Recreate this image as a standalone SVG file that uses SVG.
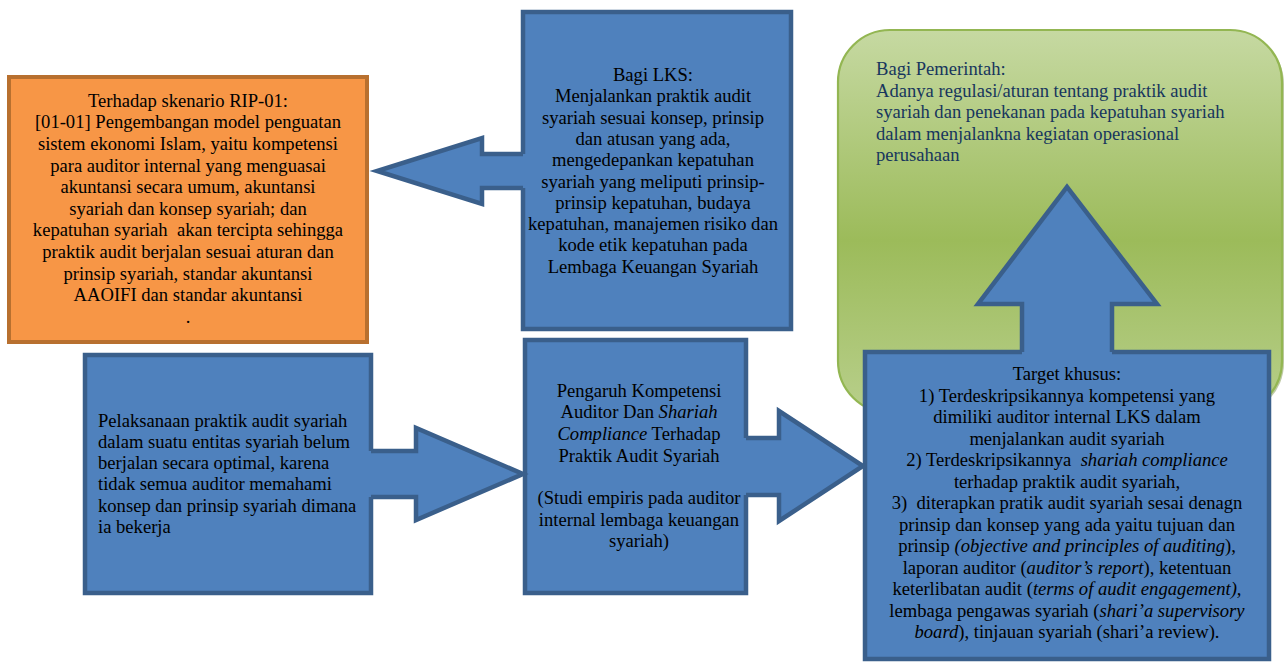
<svg xmlns="http://www.w3.org/2000/svg" width="1287" height="662" viewBox="0 0 1287 662" xml:space="preserve">
<defs>
<linearGradient id="gGreen" x1="0" y1="0" x2="0" y2="1">
<stop offset="0" stop-color="#c6d9a2"/>
<stop offset="0.55" stop-color="#9cbb5a"/>
<stop offset="1" stop-color="#b8cf8b"/>
</linearGradient>
<style>
.t{font-family:"Liberation Serif","Times New Roman",serif;font-size:18.6px;fill:#000;white-space:pre}
.c{text-anchor:middle}
.nv{fill:#17365d}
.i{font-style:italic}
.blue{fill:#4f81bd;stroke:#3a5f8b;stroke-width:4.5}
.bfill{fill:#4f81bd;stroke:none}
.bline{fill:none;stroke:#3a5f8b;stroke-width:4.5;stroke-linejoin:miter}
</style>
</defs>
<rect width="1287" height="662" fill="#fff"/>
<g id="node-pemerintah">
<rect x="840" y="32" width="444" height="383" rx="52" fill="#6f8a36" opacity="0.45"/>
<rect x="838" y="30" width="444" height="383" rx="52" fill="url(#gGreen)" stroke="#93b652" stroke-width="2.2"/>
<text class="t nv" x="876" y="75">Bagi Pemerintah:</text>
<text class="t nv" x="876" y="96.6">Adanya regulasi/aturan tentang praktik audit</text>
<text class="t nv" x="876" y="118.2">syariah dan penekanan pada kepatuhan syariah</text>
<text class="t nv" x="876" y="139.8">dalam menjalankna kegiatan operasional</text>
<text class="t nv" x="876" y="161.4">perusahaan</text>
</g>
<g id="node-rip">
<rect x="9" y="77" width="358" height="265" fill="#f79646" stroke="#b8702f" stroke-width="4"/>
<g class="t c">
<text x="188" y="106.7">Terhadap skenario RIP-01:</text>
<text x="188" y="128.3">[01-01] Pengembangan model penguatan</text>
<text x="188" y="150">sistem ekonomi Islam, yaitu kompetensi</text>
<text x="188" y="171.5">para auditor internal yang menguasai</text>
<text x="188" y="193">akuntansi secara umum, akuntansi</text>
<text x="188" y="214.7">syariah dan konsep syariah; dan</text>
<text x="188" y="236.3">kepatuhan syariah&#160; akan tercipta sehingga</text>
<text x="188" y="258">praktik audit berjalan sesuai aturan dan</text>
<text x="188" y="279.5">prinsip syariah, standar akuntansi</text>
<text x="188" y="301">AAOIFI dan standar akuntansi</text>
<text x="188" y="323">.</text>
</g>
</g>
<g id="node-lks">
<rect class="blue" x="523" y="12" width="268" height="317"/>
<g class="t c">
<text x="653" y="81">Bagi LKS:</text>
<text x="653" y="102.3">Menjalankan praktik audit</text>
<text x="653" y="123.6">syariah sesuai konsep, prinsip</text>
<text x="653" y="144.9">dan atusan yang ada,</text>
<text x="653" y="166.2">mengedepankan kepatuhan</text>
<text x="653" y="187.5">syariah yang meliputi prinsip-</text>
<text x="653" y="208.8">prinsip kepatuhan, budaya</text>
<text x="653" y="230.1">kepatuhan, manajemen risiko dan</text>
<text x="653" y="251.4">kode etik kepatuhan pada</text>
<text x="653" y="272.7">Lembaga Keuangan Syariah</text>
</g>
</g>
<g id="node-pelaksanaan">
<rect class="blue" x="85" y="355" width="286" height="238"/>
<g class="t">
<text x="98" y="426.7">Pelaksanaan praktik audit syariah</text>
<text x="98" y="447.9">dalam suatu entitas syariah belum</text>
<text x="98" y="469.1">berjalan secara optimal, karena</text>
<text x="98" y="490.3">tidak semua auditor memahami</text>
<text x="98" y="511.5">konsep dan prinsip syariah dimana</text>
<text x="98" y="532.7">ia bekerja</text>
</g>
</g>
<g id="node-pengaruh">
<rect class="blue" x="525" y="340" width="221" height="253"/>
<g class="t c">
<text x="639" y="396.7">Pengaruh Kompetensi</text>
<text x="639" y="418.3">Auditor Dan <tspan class="i">Shariah</tspan></text>
<text x="639" y="440"><tspan class="i">Compliance</tspan> Terhadap</text>
<text x="639" y="461.5">Praktik Audit Syariah</text>
<text x="639" y="504">(Studi empiris pada auditor</text>
<text x="639" y="525.5">internal lembaga keuangan</text>
<text x="639" y="547">syariah)</text>
</g>
</g>
<g id="connectors">
<polygon class="bfill" points="527,154 482,154 482,138 377,171 482,204 482,188 527,188"/>
<polyline class="bline" points="523,154 482,154 482,138 377,171 482,204 482,188 523,188"/>
<polygon class="bfill" points="367,451 416,451 416,428 523,474 416,520 416,497 367,497"/>
<polyline class="bline" points="371,451 416,451 416,428 523,474 416,520 416,497 371,497"/>
<polygon class="bfill" points="742,438 779,438 779,411 863,466 779,521 779,495 742,495"/>
<polyline class="bline" points="746,438 779,438 779,411 863,466 779,521 779,495 746,495"/>
</g>
<g id="node-target">
<rect class="blue" x="865" y="352" width="404" height="307"/>
<polygon class="bfill" points="1022,356 1022,304 978,304 1067,187 1157,304 1112,304 1112,356"/>
<polyline class="bline" points="1022,352 1022,304 978,304 1067,187 1157,304 1112,304 1112,352"/>
<g class="t c">
<text x="1067" y="380">Target khusus:</text>
<text x="1067" y="401.5">1) Terdeskripsikannya kompetensi yang</text>
<text x="1067" y="423">dimiliki auditor internal LKS dalam</text>
<text x="1067" y="444.5">menjalankan audit syariah</text>
<text x="1067" y="466">2) Terdeskripsikannya&#160; <tspan class="i">shariah compliance</tspan></text>
<text x="1067" y="487.5">terhadap praktik audit syariah,</text>
<text x="1067" y="509">3)&#160; diterapkan pratik audit syariah sesai denagn</text>
<text x="1067" y="530.5">prinsip dan konsep yang ada yaitu tujuan dan</text>
<text x="1067" y="552">prinsip <tspan class="i">(objective and principles of auditing</tspan>),</text>
<text x="1067" y="573.5">laporan auditor (<tspan class="i">auditor’s report</tspan>), ketentuan</text>
<text x="1067" y="595">keterlibatan audit (<tspan class="i">terms of audit engagement),</tspan></text>
<text x="1067" y="616.5">lembaga pengawas syariah (<tspan class="i">shari’a supervisory</tspan></text>
<text x="1067" y="638"><tspan class="i">board</tspan>), tinjauan syariah (shari’a review).</text>
</g>
</g>
</svg>
